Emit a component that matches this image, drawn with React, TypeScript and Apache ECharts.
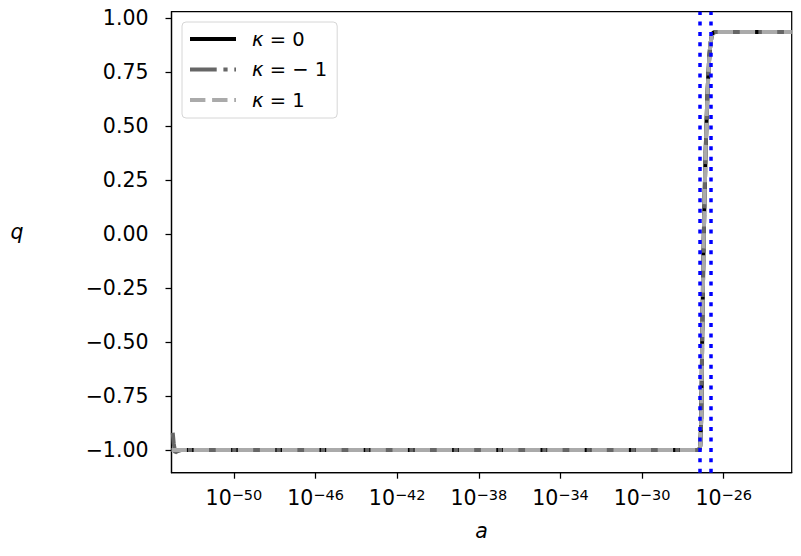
import React, { useEffect, useRef } from "react";
import * as echarts from "echarts";

// log10(a) values and deceleration parameter q for each curvature
const logA_k0 = [-53.06, -27.2, -27.15, -27.1, -27.05, -27.0, -26.95, -26.9, -26.85, -26.8, -26.75, -26.7, -26.65, -26.6, -26.55, -26.5, -26.4, -22.67];
const q_k0 = [-1.0, -1.0, -0.98, -0.85, -0.45, -0.12, 0.12, 0.33, 0.5, 0.64, 0.75, 0.83, 0.88, 0.91, 0.925, 0.932, 0.934, 0.934];

const logA_km1 = [-53.0, -52.95, -52.88, -52.75, -52.6, -27.2, -27.15, -27.1, -27.05, -27.0, -26.95, -26.9, -26.85, -26.8, -26.75, -26.7, -26.65, -26.6, -26.55, -26.5, -26.4, -22.67];
const q_km1 = [-0.92, -0.97, -1.012, -1.005, -1.0, -1.0, -0.98, -0.85, -0.45, -0.12, 0.12, 0.33, 0.5, 0.64, 0.75, 0.83, 0.88, 0.91, 0.925, 0.932, 0.934, 0.934];

const logA_k1 = [-53.06, -27.2, -27.15, -27.1, -27.05, -27.0, -26.95, -26.9, -26.85, -26.8, -26.75, -26.7, -26.65, -26.6, -26.55, -26.5, -26.4, -22.67];
const q_k1 = [-1.0, -1.0, -0.98, -0.85, -0.45, -0.12, 0.12, 0.33, 0.5, 0.64, 0.75, 0.83, 0.88, 0.91, 0.925, 0.932, 0.934, 0.934];

// vertical dotted markers (log10 a)
const markerLogA = [-27.18, -26.65];

const xTicks = [-50, -46, -42, -38, -34, -30, -26];
const yTicks = [-1.0, -0.75, -0.5, -0.25, 0.0, 0.25, 0.5, 0.75, 1.0];

const seriesNames = ["κ = 0", "κ = − 1", "κ = 1"];

const FONT = "DejaVu Sans";

const pairs = (xs: number[], ys: number[]) => xs.map((x, i) => [x, ys[i]]);

export default function App() {
  const ref = useRef<HTMLDivElement>(null);
  useEffect(() => {
    if (!ref.current) return;
    const chart = echarts.init(ref.current, undefined, { renderer: "svg" });
    chart.setOption({
      animation: false,
      backgroundColor: "#ffffff",
      textStyle: { fontFamily: FONT },
      grid: {
        left: 171.5,
        right: 9.3,
        top: 11.7,
        bottom: 83.3,
        show: true,
        borderColor: "#000",
        borderWidth: 1.25,
        backgroundColor: "transparent",
        outerBoundsMode: "none",
      },
      legend: {
        data: seriesNames,
        orient: "vertical",
        left: 182,
        top: 22,
        itemWidth: 46,
        itemHeight: 14,
        itemGap: 10.5,
        padding: [7, 10, 8, 6],
        backgroundColor: "rgba(255,255,255,0.8)",
        borderColor: "#d6d6d6",
        borderWidth: 1,
        borderRadius: 4,
        itemStyle: { opacity: 0 },
        lineStyle: { width: 4 },
        textStyle: {
          fontFamily: FONT,
          fontSize: 19.5,
          color: "#000",
          lineHeight: 20,
          rich: {
            i: { fontFamily: FONT, fontSize: 19.5, fontStyle: "italic", color: "#000", padding: [0, 0, 0, 11] },
            t: { fontFamily: FONT, fontSize: 19.5, color: "#000" },
          },
        },
        formatter: (name: string) => `{i|κ}{t|${name.slice(1)}}`,
      },
      xAxis: {
        type: "value",
        min: -53.06,
        max: -22.67,
        name: "a",
        nameLocation: "middle",
        nameGap: 48,
        nameTextStyle: { fontFamily: FONT, fontSize: 20.5, fontStyle: "italic", color: "#000" },
        splitLine: { show: false },
        axisLine: { show: true, onZero: false, lineStyle: { color: "#000", width: 1.25 } },
        axisTick: { show: true, length: 6, lineStyle: { color: "#000", width: 1.25 }, customValues: xTicks },
        axisLabel: {
          customValues: xTicks,
          margin: 15,
          formatter: (v: number) => `{b|10}{s|−${Math.abs(v)}}`,
          rich: {
            b: { fontFamily: FONT, fontSize: 20.5, color: "#000", verticalAlign: "bottom" },
            s: { fontFamily: FONT, fontSize: 14.5, color: "#000", verticalAlign: "bottom", padding: [0, 0, 6, 0] },
          },
        },
      },
      yAxis: {
        type: "value",
        min: -1.105,
        max: 1.028,
        name: "q",
        nameLocation: "middle",
        nameRotate: 0,
        nameGap: 148,
        nameTextStyle: { fontFamily: FONT, fontSize: 20.5, fontStyle: "italic", color: "#000", verticalAlign: "bottom" },
        splitLine: { show: false },
        axisLine: { show: true, onZero: false, lineStyle: { color: "#000", width: 1.25 } },
        axisTick: { show: true, length: 6, lineStyle: { color: "#000", width: 1.25 }, customValues: yTicks },
        axisLabel: {
          customValues: yTicks,
          margin: 23,
          fontFamily: FONT,
          fontSize: 20.5,
          color: "#000",
          formatter: (v: number) => v.toFixed(2).replace("-", "−"),
        },
      },
      series: [
        {
          name: seriesNames[0],
          type: "line",
          data: pairs(logA_k0, q_k0),
          symbol: "none",
          color: "#000000",
          lineStyle: { color: "#000000", width: 4, type: "solid" },
          z: 2,
        },
        {
          name: seriesNames[1],
          type: "line",
          data: pairs(logA_km1, q_km1),
          symbol: "none",
          color: "#666666",
          lineStyle: { color: "#666666", width: 4, type: [26.7, 6.7, 4.2, 6.7] },
          z: 3,
        },
        {
          name: seriesNames[2],
          type: "line",
          data: pairs(logA_k1, q_k1),
          symbol: "none",
          color: "#aaaaaa",
          lineStyle: { color: "#aaaaaa", width: 4, type: [15.4, 6.7] },
          z: 4,
        },
        {
          name: "markers",
          type: "line",
          data: [],
          symbol: "none",
          z: 5,
          markLine: {
            silent: true,
            symbol: ["none", "none"],
            label: { show: false },
            lineStyle: { color: "#0000ff", width: 3.5, type: [4, 6.4] },
            data: markerLogA.map((x) => ({ xAxis: x })),
          },
        },
      ],
    });
    return () => chart.dispose();
  }, []);
  return <div ref={ref} style={{ position: "fixed", left: 0, top: 0, width: 801, height: 556 }} />;
}
